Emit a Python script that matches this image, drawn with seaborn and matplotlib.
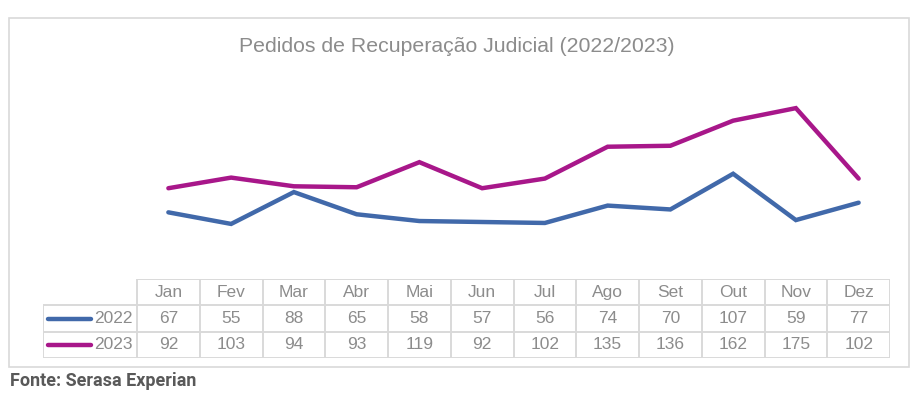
import matplotlib
matplotlib.use("Agg")
import matplotlib.pyplot as plt
import seaborn as sns
import pandas as pd
from matplotlib.patches import Rectangle

months = ["Jan", "Fev", "Mar", "Abr", "Mai", "Jun", "Jul", "Ago", "Set", "Out", "Nov", "Dez"]
years = ["2022", "2023"]
values_2022 = [67, 55, 88, 65, 58, 57, 56, 74, 70, 107, 59, 77]
values_2023 = [92, 103, 94, 93, 119, 92, 102, 135, 136, 162, 175, 102]
title = "Pedidos de Recuperação Judicial (2022/2023)"
source = "Fonte: Serasa Experian"

colors = {"2022": "#4169AA", "2023": "#A8178A"}
grid_c = "#D9D9D9"
text_c = "#8C8C8C"

df = pd.DataFrame({
    "month": months * 2,
    "pos": list(range(len(months))) * 2,
    "year": ["2022"] * len(months) + ["2023"] * len(months),
    "value": values_2022 + values_2023,
})

sns.set_theme(style="white")
plt.rcParams["font.family"] = ["Liberation Sans", "DejaVu Sans"]

W, H = 916, 396
fig = plt.figure(figsize=(W / 100, H / 100), dpi=100)

def fx(px):
    return px / W

def fy(py):
    return 1 - py / H

# outer border
fig.patches.append(Rectangle((fx(9), fy(367)), fx(900), (367 - 18) / H,
                             transform=fig.transFigure, fill=False,
                             edgecolor=grid_c, linewidth=1.2))

# main line axes
x0, x1 = 137, 890
ax = fig.add_axes([fx(x0), fy(277), fx(x1 - x0), (277 - 84) / H])
sns.lineplot(data=df, x="pos", y="value", hue="year", palette=colors,
             linewidth=3.2, ax=ax, legend=False, solid_capstyle="round",
             solid_joinstyle="miter")
ax.set_xlim(-0.5, 11.5)
ax.set_ylim(0, 200)
ax.axis("off")

fig.text(fx(457), fy(47), title, ha="center", va="center", fontsize=15.3, color=text_c)

# data table axes (same column scale: label column = 1.5 column widths)
tx0 = 43
tax = fig.add_axes([fx(tx0), fy(358), fx(x1 - tx0), (358 - 279) / H])
tax.set_xlim(-2.0, 11.5)
tax.set_ylim(3, 0)
tax.axis("off")

lw = 1.4
tax.plot([-0.5, 11.5], [0, 0], color=grid_c, lw=lw, solid_capstyle="butt")
for r in [1, 2, 3]:
    tax.plot([-2.0, 11.5], [r, r], color=grid_c, lw=lw, solid_capstyle="butt")
tax.plot([-2.0, -2.0], [1, 3], color=grid_c, lw=lw, solid_capstyle="butt")
for c in range(13):
    tax.plot([c - 0.5, c - 0.5], [0, 3], color=grid_c, lw=lw, solid_capstyle="butt")

fs = 12.5
for i, m in enumerate(months):
    tax.text(i, 0.5, m, ha="center", va="center", fontsize=fs, color=text_c)
for r, (yr, vals) in enumerate(zip(years, [values_2022, values_2023]), start=1):
    for i, v in enumerate(vals):
        tax.text(i, r + 0.5, str(v), ha="center", va="center", fontsize=fs, color=text_c)
    tax.text(-0.57, r + 0.5, yr, ha="right", va="center", fontsize=fs, color=text_c)
    tax.plot([-1.92, -1.24], [r + 0.5, r + 0.5], color=colors[yr], lw=3.2,
             solid_capstyle="round")

fig.text(fx(10), fy(381), source, ha="left", va="center", fontsize=13,
         fontweight="bold", color="#595959", family=["Roboto", "DejaVu Sans"])

fig.savefig("out.png", dpi=100, facecolor="white")
